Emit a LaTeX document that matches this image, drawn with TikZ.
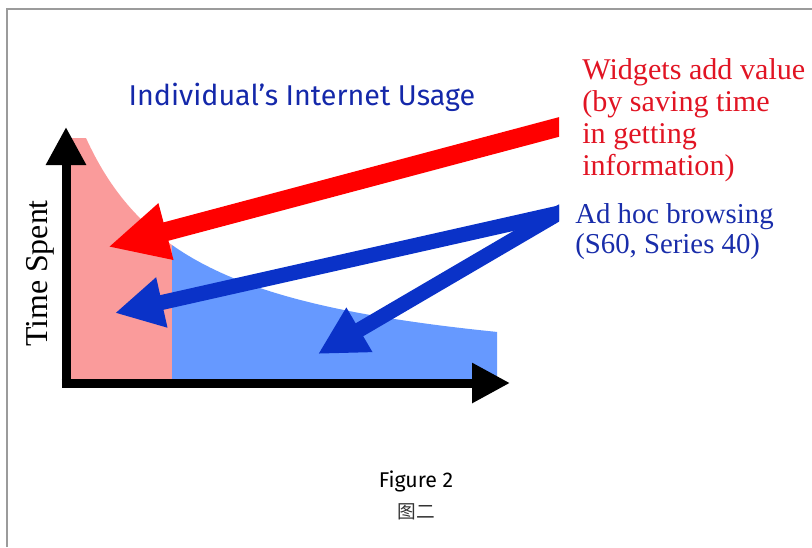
\documentclass[tikz,border=0pt]{standalone}
\usepackage{fontspec}
\setmainfont{Liberation Serif}
\newfontfamily\nokiafont{Fira Sans}
\newfontfamily\cjk{Noto Sans CJK SC}
\usetikzlibrary{arrows.meta, positioning, calc}

\definecolor{framegray}{RGB}{155,155,155}
\definecolor{pinkfill}{RGB}{250,155,155}
\definecolor{bluefill}{RGB}{102,153,255}
\definecolor{arrowred}{RGB}{255,0,0}
\definecolor{arrowblue}{RGB}{10,50,200}
\definecolor{titleblue}{RGB}{20,40,170}
\definecolor{textred}{RGB}{225,20,35}
\definecolor{textblue}{RGB}{25,45,170}

\begin{document}
\begin{tikzpicture}[x=0.75pt, y=-0.75pt,
    axis/.style={line width=6.75pt, -{Triangle[length=28.5pt, width=28.5pt]}},
    redarrow/.style={arrowred, line width=14.25pt, -{Triangle[length=45pt, width=40.5pt]}},
    bluearrow/.style={arrowblue, line width=11.25pt, -{Triangle[length=36pt, width=36pt]}}]
    \useasboundingbox (0,0) rectangle (812,547);
    \draw [framegray, line width=1.8pt] (7,547) -- (7,9) -- (812,9);

    % time spent under the curve
    \fill [pinkfill] (70,383) -- (70,138) -- (86,138)
        -- plot [domain=86:172, samples=40] (\x, {385-277.87/((\x+26.5)/100)}) -- (172,383) -- cycle;
    \fill [bluefill] (172,383)
        -- plot [domain=172:497, samples=60] (\x, {385-277.87/((\x+26.5)/100)}) -- (497,383) -- cycle;

    \coordinate (O) at (66,383);
    \coordinate (ytip) at (66,127);
    \coordinate (xtip) at (510,383);
    \draw [axis] ($(O)+(0,4.5)$) -- (ytip);
    \draw [axis] ($(O)+(-4.5,0)$) -- (xtip);

    \node (title) [anchor=base, text=titleblue, font=\nokiafont\fontsize{21.5}{26}\selectfont] at (302,105) {Individual’s Internet Usage};
    % base anchor sits on the last line
    \node (widgets) [anchor=base west, align=left, inner sep=0pt, text=textred, font=\fontsize{22.6}{24}\selectfont] at (582,175)
        {Widgets add value\\(by saving time\\in getting\\information)};
    \node (adhoc) [anchor=base west, align=left, inner sep=0pt, text=textblue, font=\fontsize{21.6}{22.5}\selectfont] at (575,253)
        {Ad hoc browsing\\(S60, Series 40)};
    \node (ylabel) [rotate=90, anchor=base, inner sep=0pt, font=\fontsize{23.9}{26}\selectfont] at (47,273.5) {Time Spent};

    \coordinate (wstart) at (575,122.7);
    \coordinate (wtip) at (108,247);
    \coordinate (astart) at (559,213);
    \coordinate (atip1) at (115,313);
    \coordinate (atip2) at (318,354);
    \begin{scope}
        \clip (0,0) rectangle (559,547);
        \draw [redarrow] (wstart) -- (wtip);
        \draw [bluearrow] ($(astart)!-0.05!(atip1)$) -- (atip1);
        \draw [bluearrow] ($(astart)!-0.08!(atip2)$) -- (atip2);
    \end{scope}

    \node (fig) [anchor=base, font=\nokiafont\fontsize{16}{19}\selectfont] at (416,487) {Figure 2};
    \node (figcjk) [below=2pt of fig, text=black!80, font=\cjk\fontsize{14}{16}\selectfont] {图二};
\end{tikzpicture}
\end{document}
